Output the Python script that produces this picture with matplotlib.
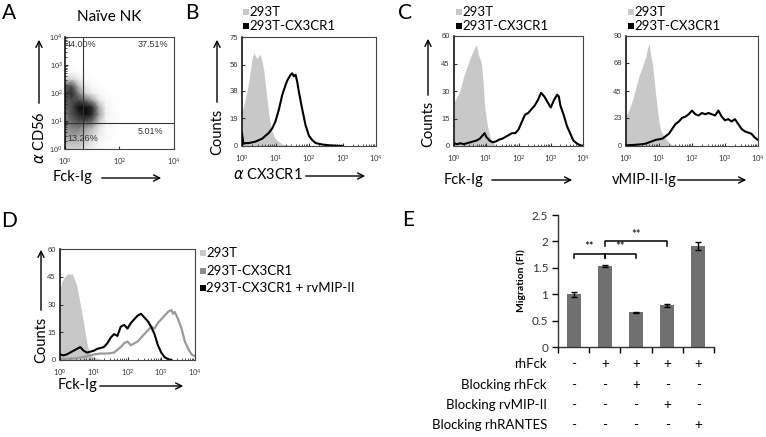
import numpy as np
import matplotlib
matplotlib.use('Agg')
import matplotlib.pyplot as plt
from matplotlib.patches import Rectangle, FancyArrowPatch

plt.rcParams['font.family'] = ['Lato', 'DejaVu Sans']

# ---------------- data ----------------
# panel A: dot density on a log grid, rows y = 10^0 .. 10^3, cols x = 10^0 .. 10^2.5 (0.25 decade steps)
a_density = np.array([
    [3, 3, 3, 2, 1, 0.5, 0.2, 0, 0, 0, 0],
    [4, 4, 4, 3, 2, 0.8, 0.3, 0.1, 0, 0, 0],
    [5, 5, 5, 4, 3, 1.5, 0.5, 0.2, 0, 0, 0],
    [5, 6, 6, 5, 4, 2, 0.6, 0.3, 0.1, 0, 0],
    [6, 7, 8, 8, 7, 3.5, 1, 0.4, 0.2, 0.1, 0],
    [6, 8, 9, 10, 9, 5, 1.2, 0.4, 0.2, 0.1, 0.1],
    [7, 8, 10, 10, 9, 4.5, 1, 0.3, 0.2, 0.1, 0],
    [7, 8, 8, 7, 5, 2, 0.5, 0.2, 0.1, 0, 0],
    [8, 9, 6, 3, 1.5, 0.5, 0.2, 0, 0, 0, 0],
    [7, 8, 4, 1.5, 0.5, 0.2, 0, 0, 0, 0, 0],
    [3, 3, 1.5, 0.5, 0.2, 0, 0, 0, 0, 0, 0],
    [0.5, 0.5, 0.3, 0.1, 0, 0, 0, 0, 0, 0, 0],
    [0.1, 0.1, 0, 0, 0, 0, 0, 0, 0, 0, 0],
])
a_gate_x = 4.5
a_gate_y = 8.5
a_quad_text = ['44.00%', '37.51%', '13.26%', '5.01%']

# histograms, x in decades (log10 of intensity)
b_gray_x = [0, .05, .1, .15, .2, .25, .3, .35, .4, .45, .5, .55, .6, .65, .7, .75, .8, .85, .9, .95, 1.0, 1.1, 1.2, 1.3, 1.4, 1.5]
b_gray_y = [24, 28, 33, 38, 44, 52, 60, 64, 62, 60, 62, 63, 58, 52, 42, 32, 22, 15, 10, 7, 5, 3, 1.5, 1, 0.5, 0]
b_black_x = [0, .04, .1, .2, .3, .4, .5, .6, .7, .8, .9, 1.0, 1.1, 1.2, 1.3, 1.35, 1.4, 1.45, 1.5, 1.55, 1.6, 1.65, 1.7, 1.8, 1.9, 2.0, 2.1, 2.2, 2.4, 2.6, 2.8, 3.0]
b_black_y = [9, 1.5, 2, 2, 2.5, 3, 4, 5, 7, 9, 12, 17, 25, 35, 42, 45, 47, 49, 50, 48, 49, 44, 37, 25, 14, 7, 4, 2, 1, 0.5, 0.2, 0]

c1_gray_x = [0, .1, .2, .3, .4, .5, .6, .65, .7, .75, .8, .85, .9, .95, 1.0, 1.05, 1.1, 1.2, 1.3]
c1_gray_y = [24, 27, 31, 38, 43, 48, 52, 54, 55, 50, 48, 45, 35, 22, 15, 10, 6, 2, 0]
c1_black_x = [0, .1, .2, .3, .4, .5, .6, .7, .8, .9, .95, 1.0, 1.1, 1.2, 1.3, 1.4, 1.5, 1.6, 1.7, 1.8, 1.9, 2.0, 2.1, 2.2, 2.3, 2.4, 2.5,
              2.6, 2.7, 2.75, 2.8, 2.9, 3.0, 3.1, 3.2, 3.25, 3.3, 3.4, 3.5, 3.6, 3.7, 3.8, 3.9, 4.0]
c1_black_y = [1.5, 1, 1.5, 1, 1.5, 2, 2.5, 3, 4, 6, 7, 5, 3, 2, 2.5, 3.5, 4, 5, 6, 7, 7, 9, 13, 17, 18, 20, 22,
              25, 29, 28, 27, 24, 21, 25, 28, 27, 22, 17, 11, 7, 3, 1.5, 0.5, 0]

c2_gray_x = [0, .1, .2, .3, .4, .5, .6, .65, .7, .75, .8, .85, .9, .95, 1.0, 1.05, 1.1, 1.2, 1.3, 1.4, 1.5]
c2_gray_y = [25, 30, 38, 48, 58, 65, 73, 80, 84, 74, 68, 55, 42, 30, 20, 13, 10, 6, 3, 1, 0]
c2_black_x = [0, .3, .5, .6, .7, .8, .9, 1.0, 1.1, 1.2, 1.3, 1.4, 1.5, 1.6, 1.7, 1.8, 1.9, 2.0, 2.1, 2.2, 2.3, 2.4, 2.5,
              2.6, 2.7, 2.8, 2.9, 3.0, 3.1, 3.2, 3.3, 3.4, 3.5, 3.6, 3.7, 3.8, 3.9, 4.0]
c2_black_y = [0.5, 1, 1.5, 2, 3, 4, 5, 5.5, 6, 8, 10, 14, 18, 20, 23, 24, 26, 29, 26, 25, 27, 26, 27,
              26, 25, 29, 24, 21, 22, 20, 22, 18, 14, 12, 11, 10, 7, 5]

d_gray_x = [0, .05, .1, .2, .25, .3, .35, .4, .5, .55, .6, .65, .7, .75, .8, .85, .9, 1.0, 1.1, 1.2, 1.3]
d_gray_y = [38, 42, 44, 46, 47, 46, 47, 45, 40, 35, 30, 25, 20, 14, 9, 5, 3, 1.5, 1, 0.5, 0]
d_cx3_x = [0, .5, .8, 1.0, 1.2, 1.4, 1.6, 1.8, 1.9, 2.0, 2.1, 2.2, 2.3, 2.4, 2.5, 2.6, 2.7, 2.8, 2.9, 3.0,
           3.1, 3.2, 3.3, 3.35, 3.4, 3.5, 3.6, 3.7, 3.8, 3.9, 4.0]
d_cx3_y = [0.5, 1, 2, 3, 3.5, 3.5, 4, 7, 9, 10, 8, 9, 10, 12, 14, 16, 18, 17, 20, 22,
           24, 26, 27, 25, 26, 22, 17, 10, 6, 3, 2]
d_vmip_x = [0, .1, .2, .3, .4, .5, .6, .7, .8, .9, 1.0, 1.1, 1.2, 1.3, 1.4, 1.5, 1.6, 1.7, 1.8, 1.9, 2.0,
            2.1, 2.2, 2.3, 2.4, 2.5, 2.6, 2.7, 2.8, 2.9, 3.0, 3.1, 3.2, 3.3]
d_vmip_y = [3, 2.5, 3, 4, 5, 6, 7, 5, 4, 4.5, 5, 6, 6.5, 7, 9, 12, 14, 13, 18, 19, 17,
            20, 22, 24, 25, 23, 21, 18, 14, 8, 4, 1.5, 0.5, 0]

# panel E
e_values = [1.0, 1.54, 0.66, 0.79, 1.91]
e_errors = [0.05, 0.02, 0.01, 0.03, 0.08]
e_rows = ['rhFck', 'Blocking rhFck', 'Blocking rvMIP-II', 'Blocking rhRANTES']
e_signs = [['-', '+', '+', '+', '+'],
           ['-', '-', '+', '-', '-'],
           ['-', '-', '-', '+', '-'],
           ['-', '-', '-', '-', '+']]
e_brackets = [(0, 1, 1.77), (1, 2, 1.77), (1, 3, 2.0)]

# ---------------- layout helpers ----------------
W, H = 766, 437
fig = plt.figure(figsize=(W / 100, H / 100), dpi=100)

def fx(x):
    return x / W

def fy(y):
    return 1 - y / H

def box(l, t, r, b):
    return [l / W, 1 - b / H, (r - l) / W, (b - t) / H]

GRAY = '#c8c8c8'
TICKFONT = 'Liberation Sans'

def arrow(x0, y0, x1, y1):
    fig.add_artist(FancyArrowPatch((fx(x0), fy(y0)), (fx(x1), fy(y1)), transform=fig.transFigure,
                                   arrowstyle='->', mutation_scale=11, lw=1, color='black'))

def legend_item(x, y, color, text):
    fig.add_artist(Rectangle((fx(x), fy(y + 3)), 6 / W, 6 / H, transform=fig.transFigure,
                             color=color, lw=0))
    fig.text(fx(x + 6.5), fy(y), text, fontsize=9.5, va='center', ha='left')

def style_flow(ax, ymax=None, yticks=None):
    ax.set_xscale('log')
    ax.set_xlim(1, 1e4)
    if ymax is not None:
        ax.set_ylim(0, ymax)
        ax.set_yticks(yticks)
    ax.tick_params(which='both', labelsize=5.5, colors='#333333', direction='in')
    ax.tick_params(axis='x', which='both', pad=5)
    ax.tick_params(axis='y', which='both', pad=3)
    ax.tick_params(which='major', length=2.5)
    ax.tick_params(which='minor', length=1.5)
    for lab in ax.get_yticklabels():
        lab.set_family(TICKFONT)
    for sp in ax.spines.values():
        sp.set_linewidth(0.8)
        sp.set_color('#444444')
    ax.spines['left'].set_color('black')
    ax.spines['left'].set_linewidth(1.1)

def hist(ax, xs, ys, fill=False, color='black', lw=1.5):
    x = 10 ** np.array(xs)
    if fill:
        ax.fill_between(x, 0, ys, color=color, lw=0)
    else:
        ax.plot(x, ys, color=color, lw=lw)

# ---------------- panel A ----------------
axA = fig.add_axes(box(65, 37, 174, 149))
nodes = 10 ** np.arange(0, 4.01, 0.25)
dens = np.zeros((len(nodes), len(nodes)))
dens[:a_density.shape[0], :a_density.shape[1]] = a_density
NX, NY = np.meshgrid(nodes, nodes)
axA.pcolormesh(NX, NY, dens, cmap='Greys', vmin=0, vmax=10.5, shading='gouraud')
axA.set_yscale('log')
style_flow(axA)
axA.set_ylim(1, 1e4)
axA.tick_params(axis='y', which='both', pad=1.5)
for lab in axA.get_yticklabels():
    lab.set_family(TICKFONT)
axA.axvline(a_gate_x, color='#333333', lw=0.8)
axA.axhline(a_gate_y, color='#333333', lw=0.8)
qkw = dict(fontsize=6.5, family=TICKFONT, color='#333333', transform=axA.transAxes, va='center')
axA.text(0.01, 0.93, a_quad_text[0], ha='left', **qkw)
axA.text(0.95, 0.93, a_quad_text[1], ha='right', **qkw)
axA.text(0.02, 0.09, a_quad_text[2], ha='left', **qkw)
axA.text(0.90, 0.16, a_quad_text[3], ha='right', **qkw)
fig.text(fx(109), fy(17), 'Naïve NK', fontsize=11, ha='center', va='center')
fig.text(fx(39), fy(138), r'$\alpha$ CD56', fontsize=10.5, rotation=90, ha='center', va='center')
arrow(39, 106, 39, 37)
fig.text(fx(73), fy(177), 'Fck-Ig', fontsize=10.5, ha='center', va='center')
arrow(99, 178, 164, 178)

# ---------------- panel B ----------------
axB = fig.add_axes(box(242, 37, 376, 146))
hist(axB, b_gray_x, b_gray_y, fill=True, color=GRAY)
hist(axB, b_black_x, b_black_y)
style_flow(axB, 75, [0, 19, 38, 56, 75])
legend_item(243, 12, GRAY, '293T')
legend_item(243, 26, 'black', '293T-CX3CR1')
fig.text(fx(217), fy(132), 'Counts', fontsize=10.5, rotation=90, ha='center', va='center')
arrow(217, 105, 217, 37)
fig.text(fx(268), fy(175), r'$\alpha$ CX3CR1', fontsize=10.5, ha='center', va='center')
arrow(303, 176, 368, 176)

# ---------------- panel C ----------------
axC1 = fig.add_axes(box(454, 36, 583, 146))
hist(axC1, c1_gray_x, c1_gray_y, fill=True, color=GRAY)
hist(axC1, c1_black_x, c1_black_y)
style_flow(axC1, 60, [0, 15, 30, 45, 60])
legend_item(456, 12, GRAY, '293T')
legend_item(456, 26, 'black', '293T-CX3CR1')
fig.text(fx(428), fy(124), 'Counts', fontsize=10.5, rotation=90, ha='center', va='center')
arrow(428, 98, 428, 36)
fig.text(fx(464), fy(180), 'Fck-Ig', fontsize=10.5, ha='center', va='center')
arrow(489, 180, 575, 180)

axC2 = fig.add_axes(box(626, 36, 758, 146))
hist(axC2, c2_gray_x, c2_gray_y, fill=True, color=GRAY)
hist(axC2, c2_black_x, c2_black_y)
style_flow(axC2, 90, [0, 23, 45, 68, 90])
legend_item(628, 12, GRAY, '293T')
legend_item(628, 26, 'black', '293T-CX3CR1')
fig.text(fx(644), fy(180), 'vMIP-II-Ig', fontsize=10.5, ha='center', va='center')
arrow(675, 180, 749, 180)

# ---------------- panel D ----------------
axD = fig.add_axes(box(60, 249, 195, 360))
hist(axD, d_gray_x, d_gray_y, fill=True, color=GRAY)
hist(axD, d_cx3_x, d_cx3_y, color='#9a9a9a', lw=1.6)
hist(axD, d_vmip_x, d_vmip_y)
style_flow(axD, 60, [0, 15, 30, 45, 60])
legend_item(200, 253, GRAY, '293T')
legend_item(200, 271, '#8c8c8c', '293T-CX3CR1')
legend_item(200, 288, 'black', '293T-CX3CR1 + rvMIP-II')
fig.text(fx(41), fy(340), 'Counts', fontsize=10.5, rotation=90, ha='center', va='center')
arrow(41, 313, 41, 247)
fig.text(fx(78), fy(385), 'Fck-Ig', fontsize=10.5, ha='center', va='center')
arrow(97, 386, 186, 386)

# ---------------- panel E ----------------
axE = fig.add_axes(box(558, 215, 714, 347))
pos = np.arange(len(e_values))
axE.bar(pos, e_values, width=0.45, color='#707070', yerr=e_errors, capsize=2.5,
        error_kw=dict(lw=1, capthick=1, ecolor='black'))
axE.set_xlim(-0.5, 4.5)
axE.set_ylim(0, 2.5)
axE.set_xticks(np.arange(-0.5, 5, 1))
axE.set_xticklabels([])
axE.set_yticks([0, 0.5, 1, 1.5, 2, 2.5])
axE.set_yticklabels(['0', '0.5', '1', '1.5', '2', '2.5'])
axE.tick_params(axis='y', labelsize=8.5, length=4, width=1, pad=3, labelcolor='#333333')
axE.tick_params(axis='x', length=4, width=1)
for s in ['top', 'right']:
    axE.spines[s].set_visible(False)
for s in ['left', 'bottom']:
    axE.spines[s].set_linewidth(1)
    axE.spines[s].set_color('#333333')
axE.set_ylabel('Migration (FI)', fontsize=7.5, fontweight='bold', labelpad=4)

for x0, x1, yb in e_brackets:
    axE.plot([x0, x0, x1, x1], [yb - 0.08, yb, yb, yb - 0.08], color='black', lw=1.1)
    axE.text((x0 + x1) / 2, yb + 0.03, '**', ha='center', va='bottom', fontsize=8)

row_y = [-0.129, -0.288, -0.439, -0.591]
tr = axE.get_xaxis_transform()
for r, label in enumerate(e_rows):
    axE.text(-0.07, row_y[r], label, transform=axE.transAxes, ha='right', va='center', fontsize=9.5)
    for i, s in enumerate(e_signs[r]):
        axE.text(pos[i], row_y[r], s, transform=tr, ha='center', va='center', fontsize=9.5)

# panel letters
for letter, (x, y) in {'A': (9, 13), 'B': (192, 13), 'C': (405, 13), 'D': (9, 221), 'E': (408, 220)}.items():
    fig.text(fx(x), fy(y), letter, fontsize=15, ha='center', va='center')

fig.savefig('out.png', dpi=100)
